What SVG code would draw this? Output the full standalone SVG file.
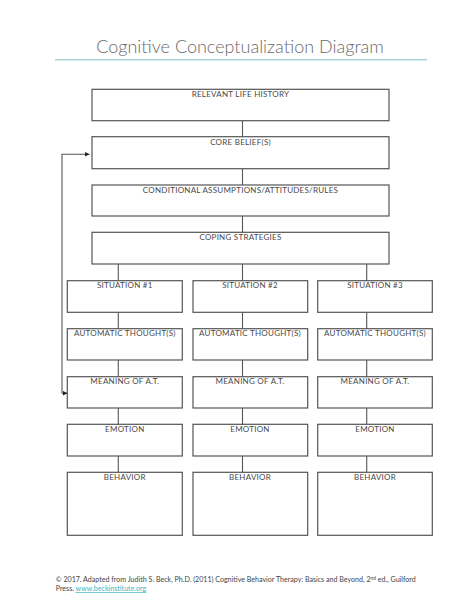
<svg xmlns="http://www.w3.org/2000/svg" width="474" height="613" viewBox="0 0 474 613">
<style>
.box{fill:#fff;stroke:#555;stroke-width:1.2}
.lbl{font-family:Lato,"Liberation Sans",sans-serif;font-size:8px;font-weight:400;letter-spacing:0.25px;fill:#4a4a4a;text-anchor:middle}
.con{stroke:#555;stroke-width:1.1;fill:none}
.title{font-family:Lato,"Liberation Sans",sans-serif;font-size:18px;font-weight:300;fill:#6a6a6a;text-anchor:middle}
.foot{font-family:Lato,"Liberation Sans",sans-serif;font-size:7.1px;fill:#444}
</style>
<defs>
<marker id="ah" markerWidth="6" markerHeight="6" refX="5" refY="3" orient="auto" markerUnits="userSpaceOnUse">
<path d="M0,0.5 L5,3 L0,5.5 Z" fill="#222"/>
</marker>
</defs>
<rect width="474" height="613" fill="#fff"/>
<text class="title" x="240" y="53">Cognitive Conceptualization Diagram</text>
<line x1="55" y1="59.7" x2="427" y2="59.7" stroke="#a9d4d6" stroke-width="1.6"/>

<g id="connectors">
<line class="con" x1="242.5" y1="121" x2="242.5" y2="137"/>
<line class="con" x1="242.5" y1="169" x2="242.5" y2="185"/>
<line class="con" x1="242.5" y1="216" x2="242.5" y2="232"/>
<line class="con" x1="118.3" y1="264" x2="118.3" y2="281"/>
<line class="con" x1="242.5" y1="264" x2="242.5" y2="281"/>
<line class="con" x1="366.7" y1="264" x2="366.7" y2="281"/>
<g id="c-col1">
<line class="con" x1="118.3" y1="312" x2="118.3" y2="329"/>
<line class="con" x1="118.3" y1="360" x2="118.3" y2="377"/>
<line class="con" x1="118.3" y1="408" x2="118.3" y2="424"/>
<line class="con" x1="118.3" y1="456" x2="118.3" y2="472"/>
</g>
<g id="c-col2">
<line class="con" x1="242.5" y1="312" x2="242.5" y2="329"/>
<line class="con" x1="242.5" y1="360" x2="242.5" y2="377"/>
<line class="con" x1="242.5" y1="408" x2="242.5" y2="424"/>
<line class="con" x1="242.5" y1="456" x2="242.5" y2="472"/>
</g>
<g id="c-col3">
<line class="con" x1="366.7" y1="312" x2="366.7" y2="329"/>
<line class="con" x1="366.7" y1="360" x2="366.7" y2="377"/>
<line class="con" x1="366.7" y1="408" x2="366.7" y2="424"/>
<line class="con" x1="366.7" y1="456" x2="366.7" y2="472"/>
</g>
<path class="con" d="M62,393.3 L62,154.3 L89.5,154.3" marker-end="url(#ah)"/>
<path class="con" d="M62,393.3 L67.5,393.3" marker-end="url(#ah)"/>
</g>

<g id="life-history"><rect class="box" x="92" y="89.3" width="297" height="31.4"/><text class="lbl" x="240.5" y="97.3">RELEVANT LIFE HISTORY</text></g>
<g id="core-beliefs"><rect class="box" x="92" y="136.7" width="297" height="32"/><text class="lbl" x="240.5" y="144.7">CORE BELIEF(S)</text></g>
<g id="conditional"><rect class="box" x="92" y="185" width="297" height="31"/><text class="lbl" x="240.5" y="192.7">CONDITIONAL ASSUMPTIONS/ATTITUDES/RULES</text></g>
<g id="coping"><rect class="box" x="92" y="232.3" width="297" height="31.7"/><text class="lbl" x="240.5" y="240">COPING STRATEGIES</text></g>

<g id="situation1"><rect class="box" x="67.3" y="280.7" width="115" height="31.6"/><text class="lbl" x="124.8" y="288.3">SITUATION #1</text></g>
<g id="situation2"><rect class="box" x="193" y="280.7" width="114.7" height="31.6"/><text class="lbl" x="250" y="288.3">SITUATION #2</text></g>
<g id="situation3"><rect class="box" x="317.7" y="280.7" width="114.6" height="31.6"/><text class="lbl" x="375" y="288.3">SITUATION #3</text></g>

<g id="at1"><rect class="box" x="67.3" y="328.7" width="115" height="31.3"/><text class="lbl" x="124.8" y="336">AUTOMATIC THOUGHT(S)</text></g>
<g id="at2"><rect class="box" x="193" y="328.7" width="114.7" height="31.3"/><text class="lbl" x="250" y="336">AUTOMATIC THOUGHT(S)</text></g>
<g id="at3"><rect class="box" x="317.7" y="328.7" width="114.6" height="31.3"/><text class="lbl" x="375" y="336">AUTOMATIC THOUGHT(S)</text></g>

<g id="meaning1"><rect class="box" x="67.3" y="376.7" width="115" height="31.3"/><text class="lbl" x="124.8" y="384.3">MEANING OF A.T.</text></g>
<g id="meaning2"><rect class="box" x="193" y="376.7" width="114.7" height="31.3"/><text class="lbl" x="250" y="384.3">MEANING OF A.T.</text></g>
<g id="meaning3"><rect class="box" x="317.7" y="376.7" width="114.6" height="31.3"/><text class="lbl" x="375" y="384.3">MEANING OF A.T.</text></g>

<g id="emotion1"><rect class="box" x="67.3" y="424.3" width="115" height="31.7"/><text class="lbl" x="124.8" y="432.3">EMOTION</text></g>
<g id="emotion2"><rect class="box" x="193" y="424.3" width="114.7" height="31.7"/><text class="lbl" x="250" y="432.3">EMOTION</text></g>
<g id="emotion3"><rect class="box" x="317.7" y="424.3" width="114.6" height="31.7"/><text class="lbl" x="375" y="432.3">EMOTION</text></g>

<g id="behavior1"><rect class="box" x="67.3" y="472.3" width="115" height="63"/><text class="lbl" x="124.8" y="480">BEHAVIOR</text></g>
<g id="behavior2"><rect class="box" x="193" y="472.3" width="114.7" height="63"/><text class="lbl" x="250" y="480">BEHAVIOR</text></g>
<g id="behavior3"><rect class="box" x="317.7" y="472.3" width="114.6" height="63"/><text class="lbl" x="375" y="480">BEHAVIOR</text></g>

<text class="foot" x="55.7" y="581.7">© 2017. Adapted from Judith S. Beck, Ph.D. (2011) Cognitive Behavior Therapy: Basics and Beyond, 2<tspan dy="-2.2" font-size="4.8">nd</tspan><tspan dy="2.2"> ed., Guilford</tspan></text>
<text class="foot" x="55.7" y="591">Press. <tspan fill="#3bb6c0" text-decoration="underline">www.beckinstitute.org</tspan></text>
</svg>
